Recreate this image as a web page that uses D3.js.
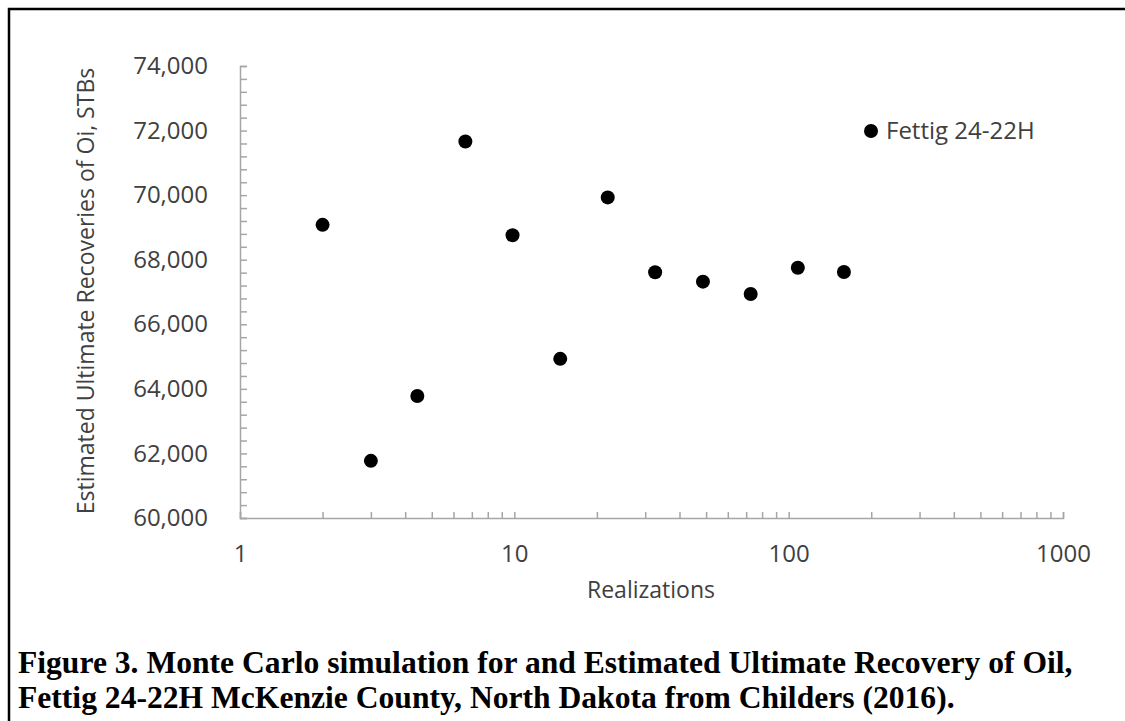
<!DOCTYPE html>
<html>
<head>
<meta charset="utf-8">
<title>Monte Carlo EUR - Fettig 24-22H</title>
<script src="https://cdn.jsdelivr.net/npm/d3@7"></script>
<style>
body { margin: 0; background: #fff; }
svg { display: block; }
.tick text { font-family: "Open Sans", sans-serif; font-size: 24px; fill: #404040; }
.axis path, .axis line { stroke: #a6a6a6; stroke-width: 1.5px; }
.ttl { font-family: "Open Sans", sans-serif; font-size: 23px; fill: #404040; }
.leg { font-family: "Open Sans", sans-serif; font-size: 24px; fill: #404040; }
.cap { font-family: "Liberation Serif", "Times New Roman", serif; font-weight: bold; font-size: 31.6px; fill: #000; }
</style>
</head>
<body>
<script>

// realizations (x) and estimated ultimate recovery, STBs (y)
var realizations = [2, 3, 4.43, 6.63, 9.85, 14.7, 21.9, 32.6, 48.7, 72.7, 108, 159];
var eur = [69080, 61770, 63780, 71660, 68760, 64930, 69930, 67610, 67320, 66940, 67750, 67620];
var seriesName = "Fettig 24-22H";
var xLabels = [1, 10, 100, 1000];
var yLabels = [60000, 62000, 64000, 66000, 68000, 70000, 72000, 74000];

var W = 1125, H = 721;
var svg = d3.select("body").append("svg").attr("width", W).attr("height", H);

// frame round the figure (runs off the right and bottom edge)
svg.append("rect").attr("x", 9).attr("y", 9).attr("width", W).attr("height", H)
  .attr("fill", "none").attr("stroke", "#000").attr("stroke-width", 2.5);

var x = d3.scaleLog().domain([1, 1000]).range([240, 1063]);
var y = d3.scaleLinear().domain([60000, 74000]).range([518, 66]);

// minor ticks for the log axis: 1..9 in every decade
var xTicks = [];
for (var d = 1; d < 1000; d *= 10) for (var k = 1; k < 10; k++) xTicks.push(d * k);
xTicks.push(1000);

var xAxis = d3.axisBottom(x).tickValues(xTicks).tickSize(-6).tickPadding(27)
  .tickFormat(v => xLabels.indexOf(Math.round(v)) >= 0 ? String(Math.round(v)) : "");
svg.append("g").attr("class", "axis").attr("transform", "translate(0,518)").call(xAxis);

var yAxis = d3.axisLeft(y).tickValues(d3.range(60000, 74001, 400)).tickSize(-7).tickPadding(32)
  .tickFormat(v => yLabels.indexOf(v) >= 0 ? d3.format(",")(v) : "");
svg.append("g").attr("class", "axis").attr("transform", "translate(240,0)").call(yAxis);

svg.selectAll(".axis .tick text").filter(function() { return this.textContent == ""; }).remove();

// points
svg.append("g").selectAll("circle")
  .data(realizations.map((r, i) => [r, eur[i]]))
  .join("circle")
  .attr("cx", p => x(p[0]))
  .attr("cy", p => y(p[1]))
  .attr("r", 7)
  .attr("fill", "#000");

// legend
svg.append("circle").attr("cx", 871).attr("cy", 131).attr("r", 7).attr("fill", "#000");
svg.append("text").attr("class", "leg").attr("x", 886).attr("y", 131).attr("dy", "0.35em").text(seriesName);

// axis titles
svg.append("text").attr("class", "ttl").attr("x", 651).attr("y", 598)
  .attr("text-anchor", "middle").text("Realizations");
svg.append("text").attr("class", "ttl")
  .attr("transform", "translate(94,291) rotate(-90)")
  .attr("text-anchor", "middle").text("Estimated Ultimate Recoveries of Oi, STBs");

// caption
svg.append("text").attr("class", "cap").attr("x", 18).attr("y", 673)
  .text("Figure 3. Monte Carlo simulation for and Estimated Ultimate Recovery of Oil,");
svg.append("text").attr("class", "cap").attr("x", 18).attr("y", 708)
  .text("Fettig 24-22H McKenzie County, North Dakota from Childers (2016).");

</script>
</body>
</html>
